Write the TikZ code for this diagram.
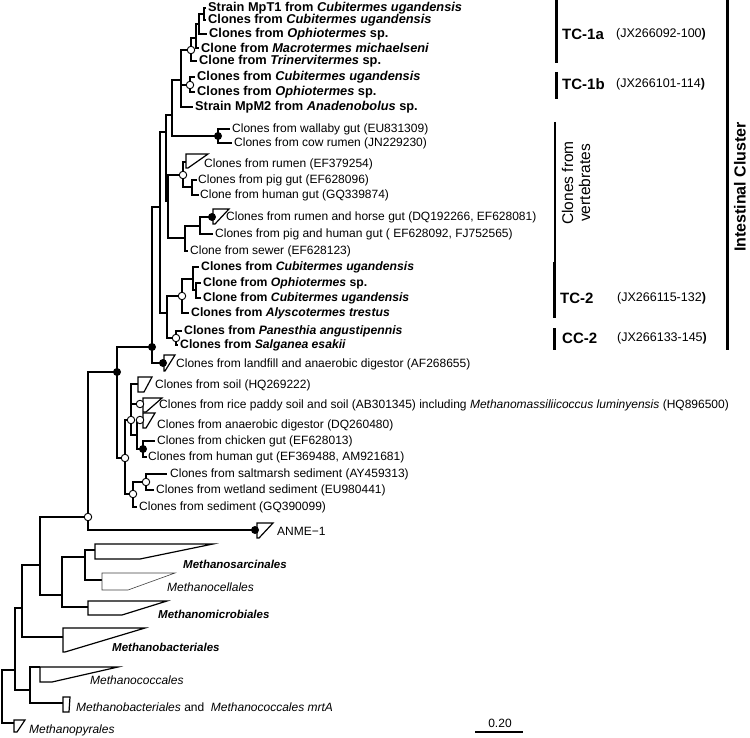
\documentclass[tikz,border=0pt]{standalone}
\usepackage{fontspec}
\setmainfont{Liberation Sans}
\begin{document}
\begin{tikzpicture}[x=1pt,y=-1pt,
  br/.style={line width=1.2pt},
  tri/.style={line width=1.2pt, fill=white},
  thintri/.style={line width=0.6pt, draw=black!75, fill=white},
  oc/.style={circle, draw, fill=white, line width=0.9pt, inner sep=0pt, minimum size=7.5pt},
  bc/.style={circle, fill=black, inner sep=0pt, minimum size=8pt},
  lab/.style={anchor=west, inner sep=0pt, font=\fontsize{12}{14}\selectfont},
  blab/.style={anchor=west, inner sep=0pt, font=\fontsize{12.8}{14}\selectfont\bfseries},
  blabs/.style={anchor=west, inner sep=0pt, font=\fontsize{12.2}{14}\selectfont\bfseries},
  clab/.style={anchor=west, inner sep=0pt, font=\fontsize{12}{14}\selectfont\itshape},
  bclab/.style={anchor=west, inner sep=0pt, font=\fontsize{11.5}{14}\selectfont\bfseries\itshape},
  tclab/.style={anchor=west, inner sep=0pt, font=\fontsize{15}{17}\selectfont\bfseries},
  jxlab/.style={anchor=west, inner sep=0pt, font=\fontsize{12.5}{14}\selectfont},
  bar/.style={line width=3pt},
]
\useasboundingbox (0,0) rectangle (750,738);

% ---------- internal nodes (x of node, y of its parent branch) ----------
\coordinate (R) at (2,696);
\coordinate (B) at (15,670);
\coordinate (D) at (22,608);
\coordinate (C) at (30,690);
\coordinate (E) at (40,565);
\coordinate (F) at (62,595);
\coordinate (G) at (85,557);
\coordinate (H) at (88,517);
\coordinate (W4) at (117,372);
\coordinate (W3) at (152,347);
\coordinate (W2) at (160,207);
\coordinate (W1) at (166,132);
\coordinate (TCW) at (172,115);
\coordinate (TC1) at (181,80);
\coordinate (TC1a) at (191,50);
\coordinate (a3) at (196,38);
\coordinate (a2) at (199,24);
\coordinate (a1) at (204,14);
\coordinate (TC1b) at (190,85);
\coordinate (WAL) at (218,136);
\coordinate (V) at (168,201);
\coordinate (V1) at (183,175);
\coordinate (PH) at (192,187);
\coordinate (V2) at (185,238);
\coordinate (V2a) at (200,226);
\coordinate (TCC) at (167,313);
\coordinate (TC2) at (182,296);
\coordinate (t2) at (193,279);
\coordinate (t1) at (196,290);
\coordinate (CC2) at (176,338);
\coordinate (S) at (125,458);
\coordinate (S1) at (131,420);
\coordinate (S1b) at (137,435);
\coordinate (CH) at (143,449);
\coordinate (S2) at (133,494);
\coordinate (S2a) at (146,482);

% ---------- tips ----------
\coordinate (tMpT1) at (206,8);
\coordinate (tCu1) at (206,20);
\coordinate (tOp1) at (207,34);
\coordinate (tMa) at (199,48);
\coordinate (tTr) at (197,61);
\coordinate (tCu2) at (195,77);
\coordinate (tOp2) at (195,92);
\coordinate (tMpM2) at (193,107);
\coordinate (tWal) at (230,129);
\coordinate (tCow) at (232,143);
\coordinate (tRum) at (186,162);
\coordinate (tPig) at (197,180);
\coordinate (tHum) at (199,195);
\coordinate (tHor) at (213,217);
\coordinate (tPH) at (213,234);
\coordinate (tSew) at (188,251);
\coordinate (tCu3) at (199,267);
\coordinate (tOp3) at (201,283);
\coordinate (tCu4) at (201,298);
\coordinate (tAly) at (189,313);
\coordinate (tPan) at (182,331);
\coordinate (tSal) at (178,345);
\coordinate (tLan) at (164,363);
\coordinate (tSoil) at (138,384);
\coordinate (tRice) at (143,404);
\coordinate (tDig) at (143,420);
\coordinate (tChi) at (155,441);
\coordinate (tHg) at (147,457);
\coordinate (tSalt) at (167,474);
\coordinate (tWet) at (154,490);
\coordinate (tSed) at (137,507);
\coordinate (tANME) at (257,530);
\coordinate (tMs) at (95,550);
\coordinate (tMc) at (102,580);
\coordinate (tMm) at (88,607);
\coordinate (tMb) at (63,637);
\coordinate (tMco) at (40,667);
\coordinate (tMrt) at (63,703);
\coordinate (tMp) at (14,723);

% ---------- branches ----------
\draw[br] (a1) |- (tMpT1) (a1) |- (tCu1) (a2) |- (a1) (a2) |- (tOp1)
  (a3) |- (a2) (a3) |- (tMa) (TC1a) |- (a3) (TC1a) |- (tTr)
  (TC1b) |- (tCu2) (TC1b) |- (tOp2)
  (TC1) |- (TC1a) (TC1) |- (TC1b) (TC1) |- (tMpM2)
  (WAL) |- (tWal) (WAL) |- (tCow)
  (TCW) |- (TC1) (TCW) |- (WAL)
  (PH) |- (tPig) (PH) |- (tHum) (V1) |- (tRum) (V1) |- (PH)
  (V2a) |- (tHor) (V2a) |- (tPH) (V2) |- (V2a) (V2) |- (tSew)
  (V) |- (V1) (V) |- (V2) (W1) |- (TCW) (W1) |- (V)
  (t1) |- (tOp3) (t1) |- (tCu4) (t2) |- (tCu3) (t2) |- (t1)
  (TC2) |- (t2) (TC2) |- (tAly) (CC2) |- (tPan) (CC2) |- (tSal)
  (TCC) |- (TC2) (TCC) |- (CC2)
  (W2) |- (W1) (W2) |- (TCC) (W3) |- (W2) (W3) |- (tLan)
  (CH) |- (tChi) (CH) |- (tHg) (S1b) |- (tDig) (S1b) |- (CH)
  (S1) |- (tSoil) (S1) |- (tRice) (S1) |- (S1b)
  (S2a) |- (tSalt) (S2a) |- (tWet) (S2) |- (S2a) (S2) |- (tSed)
  (S) |- (S1) (S) |- (S2) (W4) |- (W3) (W4) |- (S)
  (H) |- (W4) (H) |- (tANME)
  (G) |- (tMs) (G) |- (tMc) (F) |- (G) (F) |- (tMm)
  (E) |- (H) (E) |- (F) (D) |- (E) (D) |- (tMb)
  (C) |- (tMco) (C) |- (tMrt) (B) |- (D) (B) |- (C)
  (R) |- (B) (R) |- (tMp);

% ---------- collapsed clades ----------
\draw[tri] (186,154) -- (208,154) -- (188,168) -- (186,168) -- cycle;
\draw[tri] (213,209) -- (229,209) -- (215,224) -- (213,224) -- cycle;
\draw[tri] (164,355) -- (175,355) -- (165,371) -- (164,371) -- cycle;
\draw[tri] (138,377) -- (152,377) -- (144,392) -- (138,392) -- cycle;
\draw[tri] (143,398) -- (162,398) -- (146,412) -- (143,412) -- cycle;
\draw[tri] (143,413) -- (155,413) -- (146,428) -- (143,428) -- cycle;
\draw[tri] (257,523) -- (273,523) -- (259,538) -- (257,538) -- cycle;
\draw[tri] (95,544) -- (213,544) -- (140,559) -- (95,559) -- cycle;
\draw[thintri] (102,573) -- (175,573) -- (128,590) -- (102,590) -- cycle;
\draw[tri] (88,601) -- (167,601) -- (122,615) -- (88,615) -- cycle;
\draw[tri] (63,628) -- (145,628) -- (65,652) -- (63,652) -- cycle;
\draw[tri] (40,667) -- (118,667) -- (52,682) -- (40,682) -- cycle;
\draw[tri] (63,697) -- (70,697) -- (69,712) -- (63,712) -- cycle;
\draw[tri] (14,720) -- (25,720) -- (17,732) -- (14,732) -- cycle;

% ---------- support markers ----------
\node[oc] (cTC1a) at (TC1a) {};
\node[oc] (cTC1b) at (TC1b) {};
\node[oc] (cV1) at (V1) {};
\node[oc] (cTC2) at (TC2) {};
\node[oc] (cCC2) at (CC2) {};
\node[oc] (cRice) at (140,404) {};
\node[oc] (cS1) at (S1) {};
\node[oc] (cDig) at (140,420) {};
\node[oc] (cS) at (S) {};
\node[oc] (cS2) at (S2) {};
\node[oc] (cS2a) at (S2a) {};
\node[oc] (cH) at (H) {};
\node[bc] (dWAL) at (WAL) {};
\node[bc] (dHor) at (212,217) {};
\node[bc] (dW3) at (W3) {};
\node[bc] (dLan) at (163,363) {};
\node[bc] (dW4) at (W4) {};
\node[bc] (dCH) at (CH) {};
\node[bc] (dANME) at (255,530) {};

% ---------- labels ----------
\node[blab] (lMpT1) at (208,8) {Strain MpT1 from \textit{Cubitermes ugandensis}};
\node[blab] (lCu1) at (208,20) {Clones from \textit{Cubitermes ugandensis}};
\node[blab] (lOp1) at (209,34) {Clones from \textit{Ophiotermes} sp.};
\node[blab] (lMa) at (201,48) {Clone from \textit{Macrotermes michaelseni}};
\node[blab] (lTr) at (199,61) {Clone from \textit{Trinervitermes} sp.};
\node[blab] (lCu2) at (197,77) {Clones from \textit{Cubitermes ugandensis}};
\node[blab] (lOp2) at (197,92) {Clones from \textit{Ophiotermes} sp.};
\node[blab] (lMpM2) at (195,107) {Strain MpM2 from \textit{Anadenobolus} sp.};
\node[lab] (lWal) at (232,129) {Clones from wallaby gut (EU831309)};
\node[lab] (lCow) at (234,143) {Clones from cow rumen (JN229230)};
\node[lab] (lRum) at (204,164) {Clones from rumen (EF379254)};
\node[lab] (lPig) at (198,180) {Clones from pig gut (EF628096)};
\node[lab] (lHum) at (200,195) {Clone from human gut (GQ339874)};
\node[lab] (lHor) at (226,217) {Clones from rumen and horse gut (DQ192266, EF628081)};
\node[lab] (lPH) at (215,234) {Clones from pig and human gut ( EF628092, FJ752565)};
\node[lab] (lSew) at (190,251) {Clone from sewer (EF628123)};
\node[blabs] (lCu3) at (201,267) {Clones from \textit{Cubitermes ugandensis}};
\node[blabs] (lOp3) at (203,283) {Clone from \textit{Ophiotermes} sp.};
\node[blabs] (lCu4) at (203,298) {Clone from \textit{Cubitermes ugandensis}};
\node[blabs] (lAly) at (191,313) {Clones from \textit{Alyscotermes trestus}};
\node[blabs] (lPan) at (184,331) {Clones from \textit{Panesthia angustipennis}};
\node[blabs] (lSal) at (180,345) {Clones from \textit{Salganea esakii}};
\node[lab] (lLan) at (176,364) {Clones from landfill and anaerobic digestor (AF268655)};
\node[lab] (lSoil) at (155,385) {Clones from soil (HQ269222)};
\node[lab] (lRice) at (159,405) {Clones from rice paddy soil and soil (AB301345) including \textit{Methanomassiliicoccus luminyensis} (HQ896500)};
\node[lab] (lDig) at (157,425) {Clones from anaerobic digestor (DQ260480)};
\node[lab] (lChi) at (157,441) {Clones from chicken gut (EF628013)};
\node[lab] (lHg) at (148,457) {Clones from human gut (EF369488, AM921681)};
\node[lab] (lSalt) at (170,474) {Clones from saltmarsh sediment (AY459313)};
\node[lab] (lWet) at (156,490) {Clones from wetland sediment (EU980441)};
\node[lab] (lSed) at (139,507) {Clones from sediment (GQ390099)};
\node[lab] (lANME) at (277,531) {ANME−1};
\node[bclab] (lMs) at (183,564) {Methanosarcinales};
\node[clab] (lMc) at (167,587) {Methanocellales};
\node[bclab] (lMm) at (158,614) {Methanomicrobiales};
\node[bclab] (lMb) at (112,647) {Methanobacteriales};
\node[clab] (lMco) at (90,680) {Methanococcales};
\node[lab] (lMrt) at (76,707) {\textit{Methanobacteriales} and \ \textit{Methanococcales mrtA}};
\node[clab] (lMp) at (29,730) {Methanopyrales};

% ---------- cluster bars ----------
\draw[bar] (556,0) -- (556,63);
\draw[bar] (556,72) -- (556,99);
\draw[line width=2.5pt] (555,122) -- (555,262);
\draw[bar] (554,262) -- (554,318);
\draw[bar] (554,328) -- (554,350);
\draw[bar] (727,0) -- (727,350);

\node[tclab] (nTC1a) at (562,34) {TC-1a};
\node[jxlab] (jTC1a) at (616,34) {(JX266092-100\textbf{)}};
\node[tclab] (nTC1b) at (562,84) {TC-1b};
\node[jxlab] (jTC1b) at (616,84) {(JX266101-114\textbf{)}};
\node[rotate=90, align=center, inner sep=0pt, font=\fontsize{15.5}{17}\selectfont] (nVert) at (576,183) {Clones from\\vertebrates};
\node[tclab] (nTC2) at (560,298) {TC-2};
\node[jxlab] (jTC2) at (617,298) {(JX266115-132\textbf{)}};
\node[tclab] (nCC2) at (562,338) {CC-2};
\node[jxlab] (jCC2) at (617,338) {(JX266133-145\textbf{)}};
\node[rotate=90, inner sep=0pt, font=\fontsize{16}{18}\selectfont\bfseries] (nIC) at (740,187) {Intestinal Cluster};

% ---------- scale bar ----------
\coordinate (sb1) at (475,732);
\coordinate (sb2) at (523,732);
\draw[line width=1.2pt] (sb1) -- (sb2);
\node[inner sep=0pt, font=\fontsize{12}{14}\selectfont] (sbl) at (500,723) {0.20};
\end{tikzpicture}
\end{document}
